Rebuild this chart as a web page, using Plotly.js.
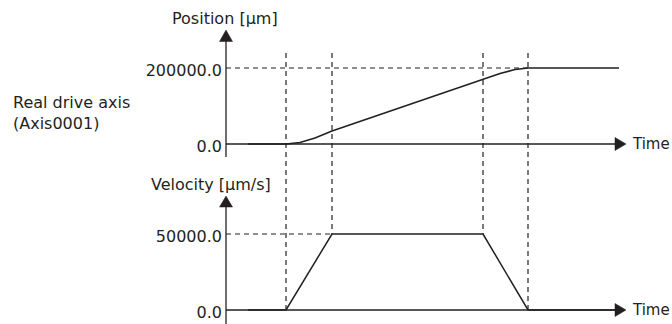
<!DOCTYPE html>
<html>
<head>
<meta charset="utf-8">
<script src="https://cdn.plot.ly/plotly-3.0.1.min.js"></script>
<style>html,body{margin:0;padding:0;background:#fff;}#chart{width:672px;height:324px;}</style>
</head>
<body>
<div id="chart"></div>
<script>
// ---- data (time in arbitrary units) ----
const posTime = [22, 60, 74, 89, 106, 257, 274, 289, 302, 393];
const position = [0, 0, 3950, 15800, 34200, 168400, 185500, 196000, 200000, 200000];
const velTime = [22, 60, 106, 257, 302, 393];
const velocity = [0, 0, 50000, 50000, 0, 0];
const posTicks = [0, 200000];
const posTickLabels = ['0.0', '200000.0'];
const velTicks = [0, 50000];
const velTickLabels = ['0.0', '50000.0'];
const posTitle = 'Position [µm]';
const velTitle = 'Velocity [µm/s]';
const axisName = ['Real drive axis', '(Axis0001)'];
const timeLabel = 'Time';

// ---- layout geometry ----
const W = 672, H = 324;
const INK = '#231f20';
const FONT = 'DejaVu Sans';
const FS = 16;
const axisX = 226;                 // pixel x of time origin
const xRange = [-axisX, W - axisX];
// top panel: pixel 0..162, 0 at 144, 200000 at 68
const k1 = posTicks[1] / (144 - 68);
const yRange1 = [-(162 - 144) * k1, 144 * k1];
const dom1 = [0.5, 1];
// bottom panel: pixel 162..324, 0 at 310, 50000 at 234
const k2 = velTicks[1] / (310 - 234);
const yRange2 = [-(324 - 310) * k2, (310 - 162) * k2];
const dom2 = [0, 0.5];

const px = x => x / W;
const py = y => 1 - y / H;
const dataToPaper = (v, r, d) => d[0] + (v - r[0]) / (r[1] - r[0]) * (d[1] - d[0]);

const shapes = [];
function line(x0, y0, x1, y1, w, dash) {
  shapes.push({type: 'line', xref: 'paper', yref: 'paper', x0: px(x0), y0: py(y0), x1: px(x1), y1: py(y1),
    line: {color: INK, width: w, dash: dash || 'solid'}});
}
function tri(points) {
  const d = 'M' + points.map(p => px(p[0]) + ',' + py(p[1])).join(' L') + ' Z';
  shapes.push({type: 'path', xref: 'paper', yref: 'paper', path: d, fillcolor: INK, line: {color: INK, width: 0.5}});
}
// axes with arrows
const y0Top = 144, y0Bot = 310;
line(axisX, 41, axisX, 157, 1.3);
tri([[axisX, 30], [axisX - 6.5, 41.5], [axisX + 6.5, 41.5]]);
line(axisX, y0Top, 616, y0Top, 1.3);
tri([[626, y0Top], [615, y0Top - 6.5], [615, y0Top + 6.5]]);
line(axisX, 206, axisX, 324, 1.3);
tri([[axisX, 196], [axisX - 6.5, 207], [axisX + 6.5, 207]]);
line(axisX, y0Bot, 616, y0Bot, 1.3);
tri([[626, y0Bot], [615, y0Bot - 6.5], [615, y0Bot + 6.5]]);

// dashed guide lines from the data
const dash = '5px,4px';
const maxPos = Math.max(...position);
const tMaxPos = posTime[position.indexOf(maxPos)];
shapes.push({type: 'line', xref: 'x', yref: 'y', x0: 0, x1: tMaxPos, y0: maxPos, y1: maxPos,
  line: {color: INK, width: 1.2, dash: dash}});
const maxVel = Math.max(...velocity);
const tMaxVel = velTime[velocity.indexOf(maxVel)];
shapes.push({type: 'line', xref: 'x', yref: 'y2', x0: 0, x1: tMaxVel, y0: maxVel, y1: maxVel,
  line: {color: INK, width: 1.2, dash: dash}});
const cornerTimes = velTime.slice(1, velTime.length - 1);
cornerTimes.forEach((t, i) => {
  const v = velocity[i + 1];
  shapes.push({type: 'line', xref: 'x', yref: 'paper', x0: t, x1: t, y0: py(53),
    y1: dataToPaper(v, yRange2, dom2), line: {color: INK, width: 1.2, dash: dash}});
});

function ann(text, x, y, xanchor, size) {
  return {text: text, xref: 'paper', yref: 'paper', x: px(x), y: py(y), xanchor: xanchor, yanchor: 'middle',
    showarrow: false, font: {family: FONT, size: size || FS, color: INK}};
}
const annotations = [
  ann(posTitle, 225.5, 18, 'center'),
  ann(velTitle, 210.5, 184, 'center'),
  ann(axisName[0], 11, 102, 'left'),
  ann(axisName[1], 11, 123, 'left'),
  ann(timeLabel, 630, 144, 'left', 15),
  ann(timeLabel, 630, 310, 'left', 15)
];

const traces = [
  {x: posTime, y: position, xaxis: 'x', yaxis: 'y', mode: 'lines', line: {color: INK, width: 1.5}, hoverinfo: 'skip'},
  {x: velTime, y: velocity, xaxis: 'x', yaxis: 'y2', mode: 'lines', line: {color: INK, width: 1.5}, hoverinfo: 'skip'}
];

const yCommon = {anchor: 'free', position: axisX / W, showgrid: false, zeroline: false, showline: false,
  ticks: '', tickfont: {family: FONT, size: FS, color: INK}, ticklabelstandoff: 4, ticklabelshift: 2, fixedrange: true};

const layout = {
  width: W, height: H,
  margin: {l: 0, r: 0, t: 0, b: 0},
  paper_bgcolor: '#fff', plot_bgcolor: 'rgba(0,0,0,0)',
  showlegend: false,
  xaxis: {range: xRange, domain: [0, 1], visible: false, fixedrange: true},
  yaxis: Object.assign({}, yCommon, {range: yRange1, domain: dom1, tickvals: posTicks, ticktext: posTickLabels}),
  yaxis2: Object.assign({}, yCommon, {range: yRange2, domain: dom2, tickvals: velTicks, ticktext: velTickLabels}),
  shapes: shapes,
  annotations: annotations
};

Plotly.newPlot('chart', traces, layout, {staticPlot: true, displayModeBar: false});
</script>
</body>
</html>
